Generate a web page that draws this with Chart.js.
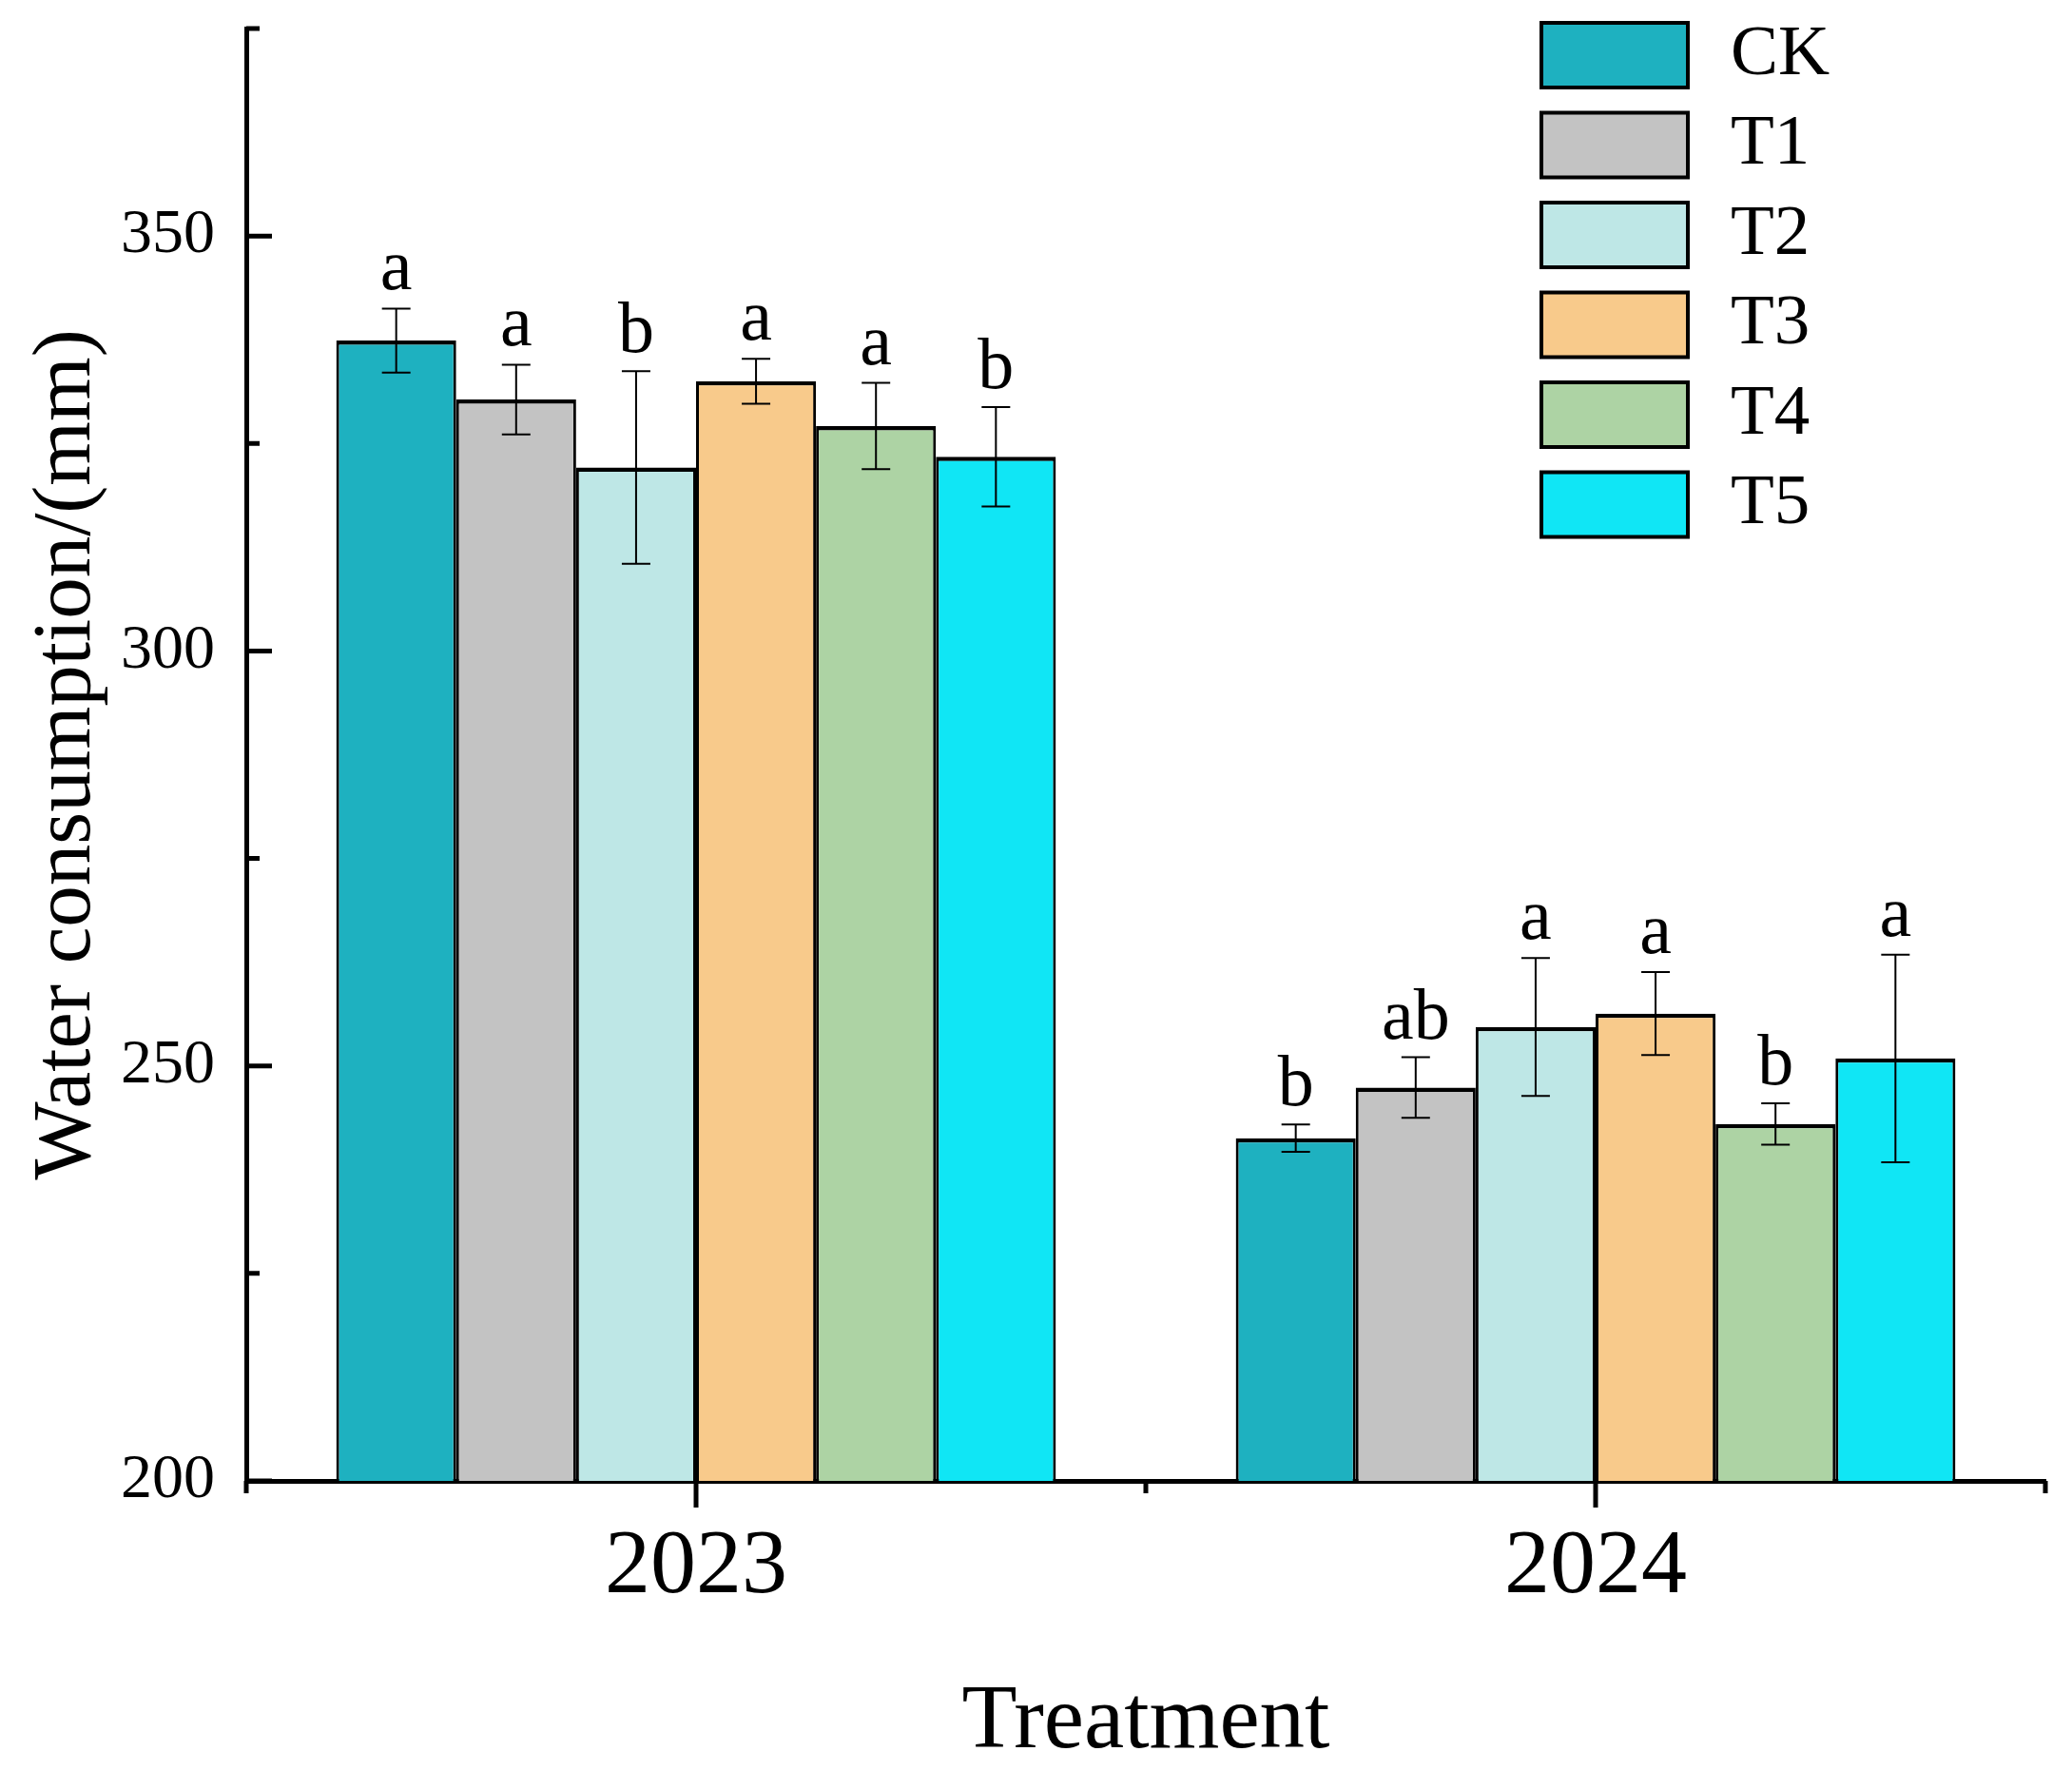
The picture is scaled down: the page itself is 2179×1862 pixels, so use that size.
<!DOCTYPE html>
<html>
<head>
<meta charset="utf-8">
<script src="https://cdn.jsdelivr.net/npm/chart.js@4.4.1/dist/chart.umd.min.js"></script>
<style>
  html, body { margin: 0; padding: 0; background: #fff; }
  #wrap { width: 2179px; height: 1862px; }
</style>
</head>
<body>
<div id="wrap"><canvas id="waterChart"></canvas></div>
<script>
const years = ['2023', '2024'];
const treatments = ['CK', 'T1', 'T2', 'T3', 'T4', 'T5'];
const colors = ['#1EB1C0', '#C3C3C3', '#BEE7E6', '#F8CA8B', '#ADD3A4', '#10E6F5'];

// mean water consumption (mm) per treatment, [2023, 2024]
const ckMean = [337.4, 241.3];
const t1Mean = [330.3, 247.4];
const t2Mean = [322.1, 254.7];
const t3Mean = [332.5, 256.3];
const t4Mean = [327.1, 243.0];
const t5Mean = [323.4, 250.9];

// error bars
const ckErr = [3.85, 1.65];
const t1Err = [4.2, 3.65];
const t2Err = [11.6, 8.3];
const t3Err = [2.7, 5.0];
const t4Err = [5.2, 2.5];
const t5Err = [6.0, 12.5];

// significance letters
const ckSig = ['a', 'b'];
const t1Sig = ['a', 'ab'];
const t2Sig = ['b', 'a'];
const t3Sig = ['a', 'a'];
const t4Sig = ['a', 'b'];
const t5Sig = ['b', 'a'];

const yLabels = [200, 250, 300, 350];
const yMinor = [225, 275, 325, 375];

const means = [ckMean, t1Mean, t2Mean, t3Mean, t4Mean, t5Mean];
const errs = [ckErr, t1Err, t2Err, t3Err, t4Err, t5Err];
const sigs = [ckSig, t1Sig, t2Sig, t3Sig, t4Sig, t5Sig];

const serif = "'Liberation Serif', 'Times New Roman', serif";
Chart.defaults.font.family = serif;
Chart.defaults.color = '#000';

const extras = {
    id: 'extras',
    afterDatasetsDraw(chart) {
        const { ctx } = chart;
        const y = chart.scales.y;
        ctx.save();
        ctx.strokeStyle = '#000';
        ctx.fillStyle = '#000';
        ctx.font = '76px ' + serif;
        ctx.textAlign = 'center';
        ctx.textBaseline = 'alphabetic';
        chart.data.datasets.forEach((ds, i) => {
            chart.getDatasetMeta(i).data.forEach((bar, j) => {
                const hi = y.getPixelForValue(ds.data[j] + ds.err[j]);
                const lo = y.getPixelForValue(ds.data[j] - ds.err[j]);
                ctx.lineWidth = 2;
                ctx.beginPath();
                ctx.moveTo(bar.x, hi); ctx.lineTo(bar.x, lo);
                ctx.moveTo(bar.x - 15, hi); ctx.lineTo(bar.x + 15, hi);
                ctx.moveTo(bar.x - 15, lo); ctx.lineTo(bar.x + 15, lo);
                ctx.stroke();
                ctx.fillText(ds.sig[j], bar.x, hi - 20);
            });
        });
        ctx.restore();
    },
    afterDraw(chart) {
        const { ctx, chartArea: area } = chart;
        const x = chart.scales.x, y = chart.scales.y;
        ctx.save();
        ctx.strokeStyle = '#000';
        ctx.lineWidth = 5;
        ctx.lineCap = 'butt';
        // y ticks, pointing inward
        ctx.beginPath();
        yLabels.forEach(v => {
            const py = y.getPixelForValue(v);
            ctx.moveTo(area.left, py); ctx.lineTo(area.left + 27, py);
        });
        yMinor.forEach(v => {
            const py = y.getPixelForValue(v);
            ctx.moveTo(area.left, py); ctx.lineTo(area.left + 14, py);
        });
        // x ticks, pointing outward
        const c0 = x.getPixelForValue(0), c1 = x.getPixelForValue(1);
        [c0, c1].forEach(px => {
            ctx.moveTo(px, area.bottom); ctx.lineTo(px, area.bottom + 28);
        });
        [area.left, (c0 + c1) / 2, area.right].forEach(px => {
            ctx.moveTo(px, area.bottom); ctx.lineTo(px, area.bottom + 13);
        });
        ctx.stroke();

        // legend
        const lx = area.right - 530, ly = 24;
        ctx.font = '75px ' + serif;
        ctx.textAlign = 'left';
        ctx.textBaseline = 'middle';
        ctx.lineWidth = 4;
        chart.data.datasets.forEach((ds, i) => {
            const by = ly + i * 94.5;
            ctx.fillStyle = ds.backgroundColor;
            ctx.fillRect(lx, by, 154, 68);
            ctx.strokeRect(lx, by, 154, 68);
            ctx.fillStyle = '#000';
            ctx.fillText(ds.label, lx + 199, by + 34);
        });
        ctx.restore();
    }
};

const ctx1 = document.getElementById('waterChart').getContext('2d');
new Chart(ctx1, {
    type: 'bar',
    data: {
        labels: years,
        datasets: treatments.map((t, i) => ({
            label: t,
            data: means[i],
            err: errs[i],
            sig: sigs[i],
            backgroundColor: colors[i],
            borderColor: '#000',
            borderWidth: { top: 4.5, left: 3, right: 3, bottom: 0 },
            borderSkipped: false,
            categoryPercentage: 0.8,
            barPercentage: 1.0
        }))
    },
    options: {
        responsive: true,
        maintainAspectRatio: false,
        devicePixelRatio: 1,
        animation: false,
        layout: { padding: { top: 30, right: 28, left: 0, bottom: 0 } },
        plugins: {
            legend: { display: false },
            tooltip: { enabled: false }
        },
        scales: {
            x: {
                grid: { display: false, drawTicks: false },
                border: { display: true, color: '#000', width: 5 },
                ticks: { font: { size: 96 }, color: '#000', padding: 34 },
                title: {
                    display: true, text: 'Treatment', color: '#000',
                    font: { size: 95, lineHeight: 1 },
                    padding: { top: 0, bottom: 2 }
                },
                afterFit(s) { s.height = 305; s.paddingLeft = 0; s.paddingRight = 0; }
            },
            y: {
                min: 200,
                max: 375,
                grid: { display: false, drawTicks: false },
                border: { display: true, color: '#000', width: 5 },
                ticks: { font: { size: 66 }, color: '#000', padding: 33 },
                afterBuildTicks(s) { s.ticks = yLabels.map(v => ({ value: v })); },
                title: {
                    display: true, text: 'Water consumption/(mm)', color: '#000',
                    font: { size: 87, lineHeight: 1 },
                    padding: { top: 28, bottom: 0 }
                },
                afterFit(s) { s.width = 259; s.paddingTop = 0; s.paddingBottom = 0; }
            }
        }
    },
    plugins: [extras]
});
</script>
</body>
</html>
